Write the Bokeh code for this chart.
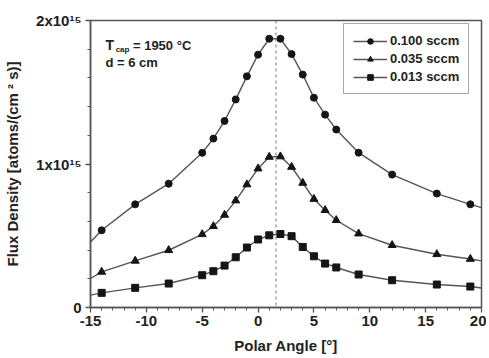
from bokeh.plotting import figure
from bokeh.models import Range1d, FixedTicker, Span, Label, Legend, LegendItem
from bokeh.embed import file_html
from bokeh.resources import INLINE

# Polar angle (deg) of measured points
angle = [-14, -11, -8, -5, -4, -3, -2, -1, 0, 1, 2, 3, 4, 5, 6, 7, 9, 12, 16, 19]
# Flux density in units of 1e15 atoms/(cm^2 s)
flux_0100 = [0.538, 0.719, 0.863, 1.078, 1.177, 1.300, 1.450, 1.611, 1.762, 1.873,
             1.873, 1.766, 1.623, 1.462, 1.344, 1.240, 1.079, 0.926, 0.794, 0.719]
flux_0035 = [0.248, 0.325, 0.399, 0.510, 0.566, 0.645, 0.745, 0.857, 0.968, 1.049,
             1.052, 0.979, 0.868, 0.756, 0.678, 0.608, 0.515, 0.434, 0.371, 0.338]
flux_0013 = [0.102, 0.137, 0.167, 0.225, 0.253, 0.292, 0.350, 0.418, 0.474, 0.503,
             0.512, 0.497, 0.422, 0.357, 0.306, 0.279, 0.230, 0.190, 0.160, 0.146]
# curve values where the lines leave the frame (x = -15 and x = 20)
edge_angle = [-15, 20]
edge_0100 = [0.457, 0.696]
edge_0035 = [0.202, 0.325]
edge_0013 = [0.086, 0.136]
series_labels = ["0.100 sccm", "0.035 sccm", "0.013 sccm"]
peak_angle = 1.6

x_ticks = [-15, -10, -5, 0, 5, 10, 15, 20]
x_tick_labels = {t: str(t) for t in x_ticks}
y_ticks = [0, 1, 2]
y_tick_labels = {0: "0", 1: "1x10\u00b9\u2075", 2: "2x10\u00b9\u2075"}

FONT = "Liberation Sans"
TXT = "#222222"
LINE = "#555555"
MARK = "#151515"

p = figure(width=486, height=356, output_backend="svg", toolbar_location=None,
           x_range=Range1d(-15, 20), y_range=Range1d(0, 2),
           min_border_left=90, min_border_right=5, min_border_top=20, min_border_bottom=49)
p.grid.visible = False
p.outline_line_color = LINE
p.outline_line_width = 1.5
p.background_fill_color = "white"
p.border_fill_color = "white"

p.xaxis.ticker = FixedTicker(ticks=x_ticks, minor_ticks=list(range(-15, 21)))
p.xaxis.major_label_overrides = x_tick_labels
p.yaxis.ticker = FixedTicker(ticks=y_ticks, minor_ticks=[i * 0.2 for i in range(11)])
p.yaxis.major_label_overrides = y_tick_labels
p.xaxis.axis_label = "Polar Angle [°]"
p.yaxis.axis_label = "Flux Density [atoms/(cm \u00b2 s)]"

for ax in (p.xaxis, p.yaxis):
    ax.axis_line_color = LINE
    ax.axis_line_width = 1.5
    ax.major_tick_line_color = LINE
    ax.minor_tick_line_color = LINE
    ax.major_tick_line_width = 1.3
    ax.minor_tick_line_width = 1
    ax.major_tick_in = 0
    ax.major_tick_out = 5
    ax.minor_tick_in = 0
    ax.minor_tick_out = 3
    ax.major_label_text_font = FONT
    ax.major_label_text_font_size = "15px"
    ax.major_label_text_font_style = "bold"
    ax.major_label_text_color = TXT
    ax.axis_label_text_font = FONT
    ax.axis_label_text_font_size = "15px"
    ax.axis_label_text_font_style = "bold"
    ax.axis_label_text_color = TXT
p.xaxis.major_label_standoff = 3
p.xaxis.axis_label_standoff = 8
p.yaxis.major_label_standoff = 4
p.yaxis.axis_label_standoff = 12

p.add_layout(Span(location=peak_angle, dimension="height", line_color="#777777",
                  line_dash="3 3", line_width=1))

items = []
for vals, edges, marker, size, lab in [
    (flux_0100, edge_0100, "circle", 7, series_labels[0]),
    (flux_0035, edge_0035, "triangle", 8, series_labels[1]),
    (flux_0013, edge_0013, "square", 7, series_labels[2]),
]:
    lx = [edge_angle[0]] + angle + [edge_angle[1]]
    ly = [edges[0]] + vals + [edges[1]]
    lr = p.line(lx, ly, line_color=LINE, line_width=1.4)
    mr = p.scatter(angle, vals, marker=marker, size=size, fill_color=MARK, line_color=MARK)
    items.append(LegendItem(label=lab, renderers=[lr, mr]))

legend = Legend(items=items, location=(253, 213), label_text_font=FONT,
                label_text_font_size="13px", label_text_font_style="bold",
                label_text_color=TXT, border_line_color=LINE, border_line_width=1.3,
                padding=9, spacing=3, label_height=14, glyph_height=14, glyph_width=34,
                label_standoff=3, margin=0, background_fill_alpha=1)
p.add_layout(legend, "center")

ann = dict(text_font=FONT, text_font_style="bold", text_color=TXT, text_baseline="alphabetic")
p.add_layout(Label(x=-13.66, y=1.827, text="T", text_font_size="14px", **ann))
p.add_layout(Label(x=-12.75, y=1.80, text="cap", text_font_size="8px", **ann))
p.add_layout(Label(x=-11.20, y=1.827, text="= 1950 °C", text_font_size="13px", **ann))
p.add_layout(Label(x=-13.66, y=1.708, text="d = 6 cm", text_font_size="13px", **ann))

open("out.html", "w").write(file_html(p, INLINE))
